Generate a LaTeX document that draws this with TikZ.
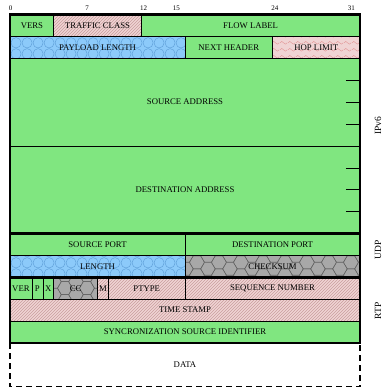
\documentclass[tikz,border=0pt]{standalone}
\usepackage{fontspec}
\setmainfont{Liberation Serif}
\usetikzlibrary{patterns,patterns.meta}
\definecolor{fieldgreen}{RGB}{128,230,128}
\definecolor{fieldpink}{RGB}{240,212,212}
\definecolor{hatchpink}{RGB}{200,158,158}
\definecolor{fieldblue}{RGB}{140,202,250}
\definecolor{bubbleblue}{RGB}{92,156,214}
\definecolor{fieldgray}{RGB}{168,168,168}
\definecolor{cellgray}{RGB}{96,96,96}
\definecolor{wavepink}{RGB}{226,150,150}
\tikzdeclarepattern{
  name=honeycomb,
  type=uncolored,
  bounding box={(0pt,0pt) and (21.9pt,12.64pt)},
  tile size={(21.9pt,12.64pt)},
  code={
    \foreach \cx/\cy in {0/0,21.9/0,0/12.64,21.9/12.64,10.95/6.32}
      \draw[line width=0.45pt,shift={(\cx pt,\cy pt)}]
        (7.3pt,0pt) -- (3.65pt,6.32pt) -- (-3.65pt,6.32pt) --
        (-7.3pt,0pt) -- (-3.65pt,-6.32pt) -- (3.65pt,-6.32pt) -- cycle;
  }
}
\tikzdeclarepattern{
  name=bubbles,
  type=uncolored,
  bounding box={(0pt,0pt) and (11pt,11pt)},
  tile size={(11pt,11pt)},
  code={
    \draw[line width=0.45pt] (5.5pt,5.5pt) circle (5.5pt);
  }
}
\tikzdeclarepattern{
  name=ripples,
  type=uncolored,
  bounding box={(0pt,0pt) and (8pt,7pt)},
  tile size={(8pt,7pt)},
  code={
    \draw[line width=0.45pt] (0pt,3.5pt) sin (2pt,5pt) cos (4pt,3.5pt)
      sin (6pt,2pt) cos (8pt,3.5pt);
  }
}
\begin{document}
\begin{tikzpicture}[x=10.9375pt,y=21.9pt,line width=0.6pt,
    font=\fontsize{8.7}{10}\selectfont,inner sep=0pt,
    greenfield/.style={draw,fill=fieldgreen},
    pinkfield/.style={draw,preaction={fill=fieldpink},
      pattern=north east lines,pattern color=hatchpink},
    bluefield/.style={draw,preaction={fill=fieldblue},
      pattern=bubbles,pattern color=bubbleblue},
    grayfield/.style={draw,preaction={fill=fieldgray},
      pattern=honeycomb,pattern color=cellgray},
    wavefield/.style={draw,preaction={fill=fieldpink},
      pattern=ripples,pattern color=wavepink},
    heavy/.style={line width=2.6pt},
    datarule/.style={line width=1.1pt,dash pattern=on 6pt off 4pt},
    bitno/.style={anchor=south west,xshift=-1.5pt,yshift=3.5pt,
      font=\fontsize{7}{8}\selectfont},
    layer/.style={rotate=90,font=\fontsize{9.5}{11}\selectfont}]
    \path[use as bounding box] (-10pt,-374.5pt) rectangle (376pt,14.5pt);
    % bit numbers
    \foreach \b in {0,7,12,15,24,31}
      \node[bitno] (bit\b) at (\b,0) {\b};
    % fields, by fill
    \foreach \a/\b/\r/\n/\t in {0/4/0/vers/VERS, 12/32/0/flow/FLOW LABEL,
        16/24/1/nexthdr/NEXT HEADER, 0/16/10/srcport/SOURCE PORT,
        16/32/10/dstport/DESTINATION PORT, 0/2/12/rtpver/VER,
        2/3/12/padbit/P, 3/4/12/extbit/X,
        0/32/14/ssrc/SYNCRONIZATION SOURCE IDENTIFIER} {
      \draw[greenfield] (\a,-\r) rectangle (\b,-\r-1);
      \node (\n) at ({(\a+\b)/2},-\r-0.5) {\t};
    }
    \foreach \a/\b/\r/\n/\t in {4/12/0/trafcls/TRAFFIC CLASS,
        8/9/12/mbit/M, 9/16/12/ptype/PTYPE,
        16/32/12/seqno/SEQUENCE NUMBER, 0/32/13/tstamp/TIME STAMP} {
      \draw[pinkfield] (\a,-\r) rectangle (\b,-\r-1);
      \node (\n) at ({(\a+\b)/2},-\r-0.5) {\t};
    }
    \foreach \a/\b/\r/\n/\t in {0/16/1/paylen/PAYLOAD LENGTH,
        0/16/11/udplen/LENGTH} {
      \draw[bluefield] (\a,-\r) rectangle (\b,-\r-1);
      \node (\n) at ({(\a+\b)/2},-\r-0.5) {\t};
    }
    \foreach \a/\b/\r/\n/\t in {16/32/11/chksum/CHECKSUM, 4/8/12/csrccnt/CC} {
      \draw[grayfield] (\a,-\r) rectangle (\b,-\r-1);
      \node (\n) at ({(\a+\b)/2},-\r-0.5) {\t};
    }
    \draw[wavefield] (24,-1) rectangle (32,-2);
    \node (hoplim) at (28,-1.5) {HOP LIMIT};
    % addresses, four words each
    \draw[greenfield] (0,-2) rectangle (32,-6);
    \draw[greenfield] (0,-6) rectangle (32,-10);
    \node (srcaddr) at (16,-4) {SOURCE ADDRESS};
    \node (dstaddr) at (16,-8) {DESTINATION ADDRESS};
    \foreach \y in {3,4,5,7,8,9}
      \draw (30.7,-\y) -- (32,-\y);
    % header borders
    \draw[heavy] (0,0) rectangle (32,-15);
    \draw[heavy] (0,-10) -- (32,-10);
    \draw[heavy] (0,-12) -- (32,-12);
    % payload
    \draw[datarule] (0,-15) -- (0,-17) -- (32,-17) -- (32,-15);
    \node (data) at (16,-16) {DATA};
    % layer names
    \node[layer] (ipv6) at (33.65,-5.09) {IPv6};
    \node[layer] (udp) at (33.65,-10.75) {UDP};
    \node[layer] (rtp) at (33.65,-13.54) {RTP};
  \end{tikzpicture}
\end{document}
